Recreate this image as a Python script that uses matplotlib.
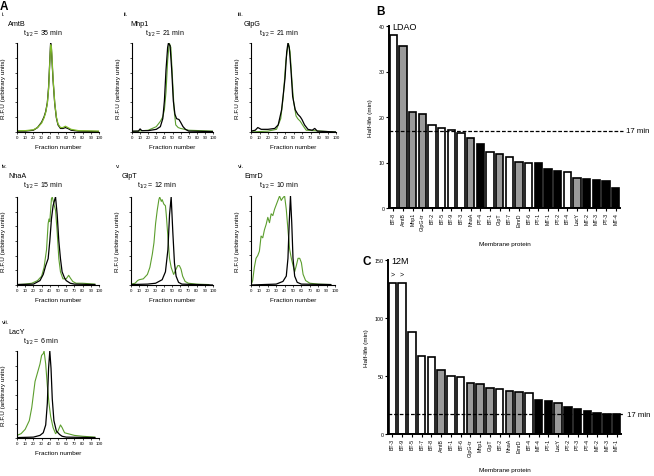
import matplotlib
matplotlib.use("Agg")
import matplotlib.pyplot as plt
import numpy as np

plt.rcParams['font.family'] = ['Liberation Sans', 'DejaVu Sans']
plt.rcParams['mathtext.fontset'] = 'custom'
plt.rcParams['mathtext.rm'] = 'Liberation Sans'
plt.rcParams['mathtext.it'] = 'Liberation Sans'

W, H = 654, 477

# ---- panel A: chromatography traces (fraction, relative fluorescence) ----
amtb_black = [(0, 0.01), (10, 0.01), (20, 0.02), (25, 0.05), (30, 0.11), (33, 0.17), (35, 0.23),
              (37, 0.33), (38.5, 0.5), (40, 0.8), (41, 1.0), (42, 0.93), (43, 0.75), (44, 0.58),
              (46, 0.32), (48, 0.16), (50, 0.08), (53, 0.04), (56, 0.04), (59, 0.05), (62, 0.04),
              (66, 0.02), (75, 0.01), (100, 0.005)]
amtb_green = [(0, 0.015), (10, 0.015), (20, 0.025), (25, 0.05), (30, 0.1), (33, 0.16), (35, 0.22),
              (37, 0.32), (38.5, 0.48), (40, 0.78), (41, 0.98), (42, 0.95), (43, 0.78), (44, 0.6),
              (46, 0.33), (48, 0.17), (50, 0.09), (53, 0.05), (56, 0.05), (59, 0.065), (62, 0.05),
              (66, 0.03), (75, 0.015), (100, 0.01)]

mhp1_black = [(0, 0.01), (8, 0.01), (10, 0.035), (12, 0.015), (20, 0.015), (30, 0.03), (35, 0.06),
              (38, 0.15), (40, 0.35), (42, 0.7), (44, 0.95), (45, 1.0), (47, 0.97), (49, 0.7),
              (51, 0.35), (53, 0.2), (55, 0.15), (58, 0.14), (60, 0.11), (63, 0.06), (66, 0.03),
              (70, 0.01), (100, 0.005)]
mhp1_green = [(0, 0.005), (20, 0.02), (30, 0.06), (35, 0.12), (38, 0.17), (40, 0.25), (42, 0.45),
              (44, 0.8), (46, 1.0), (48, 0.95), (50, 0.6), (52, 0.25), (54, 0.08), (57, 0.05),
              (60, 0.04), (65, 0.03), (70, 0.02), (100, 0.01)]

glpg_black = [(0, 0.01), (5, 0.02), (8, 0.05), (12, 0.03), (20, 0.03), (28, 0.04), (32, 0.08),
              (36, 0.25), (40, 0.6), (42, 0.9), (43.5, 1.0), (45, 0.95), (47, 0.7), (49, 0.4),
              (52, 0.25), (55, 0.2), (58, 0.17), (60, 0.14), (63, 0.08), (67, 0.03), (72, 0.02),
              (75, 0.04), (78, 0.01), (100, 0.0)]
glpg_green = [(0, 0.0), (20, 0.01), (30, 0.03), (35, 0.15), (38, 0.4), (41, 0.8), (44, 1.0),
              (46, 0.9), (48, 0.6), (50, 0.35), (53, 0.18), (55, 0.15), (58, 0.12), (62, 0.06),
              (65, 0.02), (100, 0.0)]

nhaa_black = [(0, 0.005), (20, 0.01), (28, 0.05), (32, 0.12), (35, 0.22), (38, 0.3), (40, 0.5),
              (42, 0.75), (44, 0.9), (46, 0.97), (47, 1.0), (49, 0.8), (51, 0.5), (53, 0.3),
              (55, 0.15), (58, 0.08), (60, 0.05), (65, 0.02), (70, 0.01), (95, 0.005)]
nhaa_green = [(0, 0.005), (10, 0.01), (18, 0.02), (25, 0.05), (30, 0.1), (33, 0.2), (36, 0.4),
              (38, 0.7), (39, 0.75), (40, 0.72), (41, 0.85), (42, 0.98), (43, 1.0), (44, 0.96),
              (45, 0.92), (47, 0.85), (49, 0.6), (51, 0.3), (53, 0.15), (56, 0.07), (60, 0.07),
              (63, 0.11), (65, 0.08), (68, 0.04), (72, 0.02), (80, 0.02), (95, 0.01)]

glpt_black = [(0, 0.005), (20, 0.01), (30, 0.02), (38, 0.06), (42, 0.15), (45, 0.4), (47, 0.8),
              (49, 1.0), (51, 0.6), (53, 0.25), (55, 0.1), (58, 0.03), (62, 0.01), (100, 0.0)]
glpt_green = [(0, 0.01), (5, 0.02), (8, 0.05), (10, 0.06), (15, 0.07), (20, 0.12), (23, 0.2),
              (26, 0.35), (28, 0.48), (30, 0.7), (32, 0.85), (34, 0.97), (35, 1.0), (37, 0.95),
              (38, 0.97), (40, 0.92), (42, 0.9), (43, 0.8), (45, 0.55), (47, 0.3), (49, 0.2),
              (52, 0.12), (55, 0.18), (57, 0.22), (59, 0.22), (61, 0.18), (63, 0.1), (66, 0.04),
              (70, 0.02), (80, 0.01), (95, 0.005)]

emrd_black = [(0, 0.0), (30, 0.01), (38, 0.04), (42, 0.1), (44, 0.3), (45.5, 0.7), (47, 1.0),
              (48.5, 0.7), (50, 0.3), (52, 0.1), (55, 0.03), (60, 0.01), (95, 0.005)]
emrd_green = [(0, 0.0), (2, 0.05), (4, 0.2), (6, 0.3), (8, 0.33), (10, 0.38), (12, 0.55),
              (14, 0.53), (16, 0.62), (18, 0.68), (20, 0.76), (22, 0.7), (24, 0.8), (26, 0.78),
              (28, 0.85), (30, 0.9), (32, 0.95), (34, 1.0), (36, 0.95), (38, 0.98), (40, 1.0),
              (42, 0.85), (44, 0.62), (46, 0.4), (48, 0.3), (50, 0.22), (52, 0.15), (54, 0.22),
              (56, 0.3), (58, 0.3), (60, 0.25), (62, 0.12), (65, 0.05), (70, 0.02), (80, 0.01),
              (95, 0.005)]

lacy_black = [(0, 0.005), (20, 0.01), (28, 0.03), (32, 0.06), (35, 0.15), (37, 0.4), (38.5, 0.8),
              (40, 1.0), (41.5, 0.8), (43, 0.45), (45, 0.2), (48, 0.08), (52, 0.04), (55, 0.02),
              (60, 0.01), (95, 0.005)]
lacy_green = [(0, 0.03), (5, 0.05), (10, 0.1), (15, 0.2), (18, 0.35), (20, 0.5), (22, 0.65),
              (25, 0.75), (28, 0.85), (30, 0.95), (32, 0.97), (33, 1.0), (35, 0.85), (37, 0.6),
              (39, 0.4), (41, 0.25), (44, 0.12), (47, 0.05), (50, 0.08), (53, 0.15), (55, 0.12),
              (58, 0.06), (62, 0.05), (70, 0.03), (80, 0.02), (95, 0.01)]

# ---- panel B: LDAO half-lives ----
ldao_labels = ['BT-8', 'AmtB', 'Mhp1', 'GlpG-tr', 'BT-2', 'BT-5', 'BT-9', 'BT-3', 'NhaA', 'PT-4',
               'BT-1', 'GlpT', 'BT-7', 'EmrD', 'BT-6', 'PT-1', 'MT-1', 'PT-2', 'BT-4', 'LacY',
               'MT-2', 'MT-3', 'PT-3', 'MT-4']
ldao_values = [38.0, 35.5, 21.0, 20.7, 18.2, 17.6, 17.1, 16.5, 15.3, 14.0, 12.4, 11.8, 11.1, 10.1,
               9.9, 9.9, 8.5, 8.1, 7.9, 6.6, 6.3, 6.1, 5.9, 4.5]

# ---- panel C: 12M half-lives ----
dm12_labels = ['BT-3', 'BT-9', 'BT-5', 'BT-7', 'BT-8', 'AmtB', 'BT-1', 'BT-6', 'GlpG-tr', 'Mhp1',
               'GlpT', 'BT-2', 'NhaA', 'EmrD', 'BT-4', 'MT-4', 'PT-1', 'LacY', 'PT-2', 'PT-3',
               'PT-4', 'MT-2', 'MT-3', 'MT-1']
dm12_values = [130, 130, 88, 67, 66, 55, 50, 49, 44, 43, 40, 39, 37.3, 36.3, 35.2, 29.7, 28.5,
               26.8, 23.5, 21.3, 19.5, 18.0, 17.3, 17.3]

named = ['AmtB', 'Mhp1', 'GlpG-tr', 'NhaA', 'GlpT', 'EmrD', 'LacY']

GREEN = '#5c9e2e'


def px(l, t, r, b):
    return [l / W, 1 - b / H, (r - l) / W, (b - t) / H]


def txt(x, y, s, **kw):
    kw.setdefault('va', 'center')
    fig.text(x / W, 1 - y / H, s, **kw)


def bar_color(name):
    if name.startswith('BT'):
        return 'white'
    if name in named:
        return '#9a9a9a'
    return 'black'


fig = plt.figure(figsize=(W / 100, H / 100), dpi=100)

panels = [
    ('i.', 'AmtB', '35', amtb_black, amtb_green, (17, 44, 99, 133), (2, 15), True),
    ('ii.', 'Mhp1', '21', mhp1_black, mhp1_green, (132, 44, 213, 133), (124, 15), False),
    ('iii.', 'GlpG', '21', glpg_black, glpg_green, (251, 44, 336, 133), (238, 15), False),
    ('iv.', 'NhaA', '15', nhaa_black, nhaa_green, (17, 198, 99, 286), (2, 167), False),
    ('v.', 'GlpT', '12', glpt_black, glpt_green, (131, 198, 213, 286), (116, 167), False),
    ('vi.', 'EmrD', '10', emrd_black, emrd_green, (251, 197, 335, 286), (238, 167), False),
    ('vii.', 'LacY', '6', lacy_black, lacy_green, (17, 352, 99, 439), (2, 323), False),
]

for num, name, t12, black, green, box, (tx, ty), green_top in panels:
    ax = fig.add_axes(px(*box))
    bx, by = zip(*black)
    gx, gy = zip(*green)
    if green_top:
        ax.plot(bx, by, color='black', lw=0.9)
        ax.plot(gx, gy, color='#7fba2a', lw=0.9)
    else:
        ax.plot(gx, gy, color=GREEN, lw=0.8)
        ax.plot(bx, by, color='black', lw=0.9)
    ax.set_xlim(0, 100)
    ax.set_ylim(0, 1.0)
    ax.set_xticks(range(0, 101, 10))
    ax.set_yticks(np.linspace(0, 1, 7))
    ax.set_yticklabels([])
    ax.tick_params(axis='x', labelsize=3.2, length=1.5, width=0.5, pad=1)
    ax.tick_params(axis='y', length=1.5, width=0.5)
    for s in ['top', 'right']:
        ax.spines[s].set_visible(False)
    for s in ['left', 'bottom']:
        ax.spines[s].set_linewidth(0.8)
    ax.set_xlabel('Fraction number', fontsize=4.6, labelpad=3)
    ax.set_ylabel('R.F.U (arbitrary units)', fontsize=4.6, labelpad=3)
    txt(tx, ty, num, fontsize=4.5)
    txt(tx + 6, ty + 9, name, fontsize=5.2)
    txt(tx + 21, ty + 19, r'$\mathregular{t_{1/2}}$ = ' + t12 + ' min', fontsize=5.0)

txt(0, 1, 'A', fontsize=8.5, fontweight='bold', va='top')
txt(376, 12, 'B', fontsize=8.5, fontweight='bold')
txt(362, 262, 'C', fontsize=8.5, fontweight='bold')


def bar_panel(box, labels, values, top, ticks, tag):
    ax = fig.add_axes(px(*box))
    x = np.arange(len(labels))
    ax.bar(x, values, width=0.78, color=[bar_color(n) for n in labels],
           edgecolor='black', linewidth=1.2)
    ax.set_xlim(-0.45, len(labels) - 0.55)
    ax.set_ylim(0, top)
    ax.set_xticks(x)
    ax.set_xticklabels(labels, rotation=90, fontsize=3.8)
    ax.set_yticks(ticks)
    ax.tick_params(axis='y', labelsize=3.8, length=2, width=0.8, pad=1)
    ax.tick_params(axis='x', length=2, width=0.8, pad=1)
    for s in ['top', 'right']:
        ax.spines[s].set_visible(False)
    for s in ['left', 'bottom']:
        ax.spines[s].set_linewidth(1.4)
    ax.set_xlabel('Membrane protein', fontsize=4.6, labelpad=8)
    ax.set_ylabel('Half-life (min)', fontsize=4.6, labelpad=4)
    ax.plot([0, 1.012], [17, 17], color='black', ls=(0, (3, 1.5)), lw=0.9,
            transform=ax.get_yaxis_transform(), clip_on=False)
    ax.text(1.025, 17, '17 min', fontsize=5.6, va='center',
            transform=ax.get_yaxis_transform())
    ax.text(0.015, 1.0, tag, fontsize=6.5, va='center', transform=ax.transAxes)
    return ax


bar_panel((389, 27, 620, 209), ldao_labels, ldao_values, 40, [0, 10, 20, 30, 40], 'LDAO')
axc = bar_panel((388, 261, 621, 435), dm12_labels, dm12_values, 150, [0, 50, 100, 150], '12M')
for i in range(2):
    axc.text(i, dm12_values[i] + 5, '>', ha='center', va='bottom', fontsize=5)

fig.savefig('out.png', dpi=100)
